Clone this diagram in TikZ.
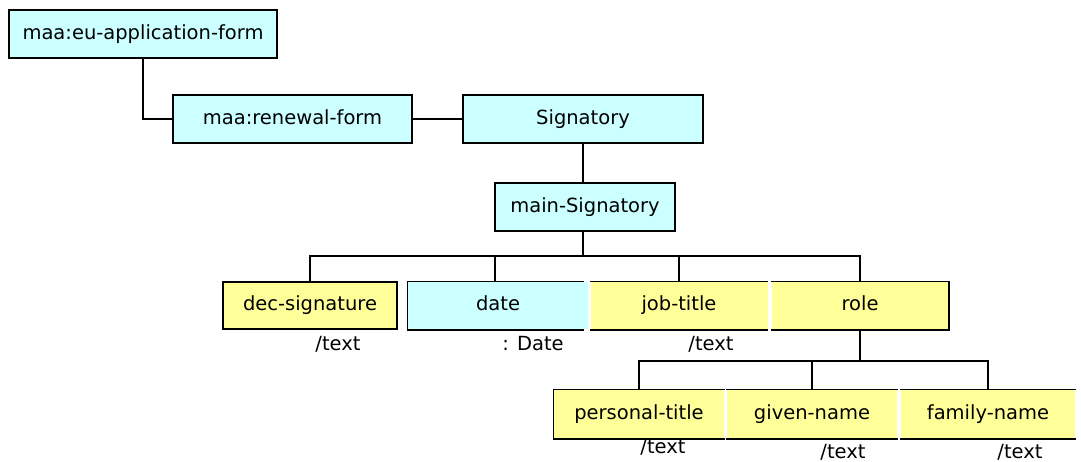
\documentclass[tikz,border=0pt]{standalone}
\usepackage{fontspec}
\setmainfont{DejaVu Sans}
\usepackage{tikz}
\RequirePackage{xcolor}
\definecolor{class-cyan}{HTML}{CCFFFF}
\definecolor{attr-yellow}{HTML}{FFFF99}

\begin{document}
\begin{tikzpicture}[x=1pt, y=-1pt, line width=1.5pt,
    every node/.style={font=\fontsize{19.5}{22}\selectfont, inner sep=0pt, text height=14pt, text depth=4pt},
    classbox/.style={draw, fill=class-cyan, minimum height=48pt},
    attrbox/.style={draw, fill=attr-yellow, minimum height=47pt},
    openbox/.style={fill=#1, minimum height=47pt},
    typelabel/.style={anchor=center}]
    \useasboundingbox (0, 0) rectangle (1081, 461);
    % classes
    \node[classbox, minimum width=268pt] (eu-form) at (143, 34) {maa:eu-application-form};
    \node[classbox, minimum width=239pt] (renewal-form) at (292.5, 119) {maa:renewal-form};
    \node[classbox, minimum width=240pt] (signatory) at (583, 119) {Signatory};
    \node[classbox, minimum width=180pt] (main-signatory) at (585, 207) {main-Signatory};
    % first row
    \node[attrbox, minimum width=174pt] (dec-signature) at (310, 305.5) {dec-signature};
    \node[openbox=class-cyan, minimum width=180pt] (date) at (498, 305.5) {date};
    \node[openbox=attr-yellow, minimum width=177pt] (job-title) at (679, 305.5) {job-title};
    \node[openbox=attr-yellow, minimum width=176pt] (role) at (860, 305.5) {role};
    \draw ([xshift=-5pt]date.north east) -- (date.north west) -- (date.south west) -- ([xshift=-5pt]date.south east);
    \draw (job-title.north west) -- (job-title.north east);
    \draw (job-title.south west) -- (job-title.south east);
    \draw (role.north west) -- (role.north east) -- (role.south east) -- (role.south west);
    % second row
    \node[openbox=attr-yellow, minimum width=170pt, minimum height=48pt] (personal-title) at (639, 414) {personal-title};
    \node[openbox=attr-yellow, minimum width=170pt, minimum height=48pt] (given-name) at (812, 414) {given-name};
    \node[openbox=attr-yellow, minimum width=174pt, minimum height=48pt] (family-name) at (988, 414) {family-name};
    \draw (personal-title.north east) -- (personal-title.north west) -- (personal-title.south west) -- (personal-title.south east);
    \draw (given-name.north west) -- (given-name.north east);
    \draw (given-name.south west) -- (given-name.south east);
    \draw (family-name.north west) -- (family-name.north east);
    \draw (family-name.south west) -- (family-name.south east);
    % types
    \node[typelabel] (dec-type) at (338, 345) {/text};
    \node[typelabel] (date-type) at (533, 345) {: Date};
    \node[typelabel] (job-type) at (711, 345) {/text};
    \node[typelabel] (personal-type) at (663, 448) {/text};
    \node[typelabel] (given-type) at (843, 453) {/text};
    \node[typelabel] (family-type) at (1020, 453) {/text};
    % links
    \draw (eu-form.south) |- (renewal-form.west);
    \draw (renewal-form.east) -- (signatory.west);
    \draw (signatory.south) -- (signatory.south |- main-signatory.north);
    \coordinate (bus-a) at (583, 256);
    \coordinate (bus-b) at (860, 361);
    \draw[line width=2.2pt] (signatory.south |- main-signatory.south) -- (bus-a);
    \draw (dec-signature.north) |- (bus-a) -| (role.north);
    \draw ([xshift=-3pt]date.north) -- ([xshift=-3pt]date.north |- bus-a);
    \draw (job-title.north) -- (job-title.north |- bus-a);
    \draw (role.south) -- (bus-b);
    \draw (personal-title.north) |- (bus-b) -| (family-name.north);
    \draw (given-name.north) -- (given-name.north |- bus-b);
\end{tikzpicture}
\end{document}
